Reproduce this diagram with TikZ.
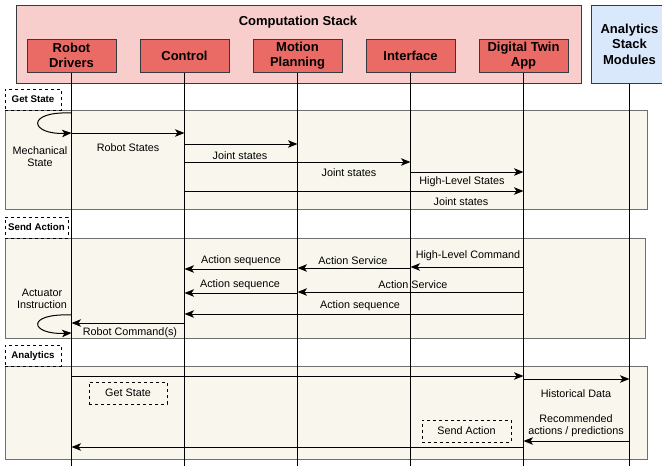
\documentclass[tikz,border=0pt]{standalone}
\usepackage{fontspec}
\setmainfont{Liberation Sans}
\usetikzlibrary{positioning,calc,arrows.meta}
\definecolor{stackpink}{HTML}{F8CECC}
\definecolor{boxred}{HTML}{EA6B66}
\definecolor{anablue}{HTML}{DAE8FC}
\definecolor{lanefill}{HTML}{F9F7ED}
\definecolor{laneedge}{HTML}{707070}
\definecolor{edgegray}{HTML}{36393D}
\tikzset{
	stackbox/.style={draw=edgegray,line width=1pt,fill=boxred,minimum width=89pt,minimum height=33pt,inner sep=0pt,align=center,font=\fontsize{13}{14.5}\selectfont\bfseries},
	outerbox/.style={draw=edgegray,line width=1pt,inner sep=0pt},
	lane/.style={draw=laneedge,line width=1pt,fill=lanefill},
	tag/.style={draw,dashed,line width=0.8pt,inner sep=0pt,minimum height=21pt,font=\fontsize{9.7}{11}\selectfont\bfseries},
	note/.style={draw,dashed,line width=0.8pt,inner sep=0pt,minimum height=22pt,font=\fontsize{10.8}{12}\selectfont},
	lbl/.style={inner sep=0pt,align=center,yshift=-1.5pt,font=\fontsize{10.8}{12.5}\selectfont},
	life/.style={line width=1pt},
	msg/.style={line width=1pt,-{Stealth[length=9.5pt,width=7.5pt,inset=2.5pt]}}
}

\begin{document}
\begin{tikzpicture}[x=1pt,y=-1pt]
	\useasboundingbox (0,0) rectangle (662,466);
	
	%Piles
	\node[outerbox,fill=stackpink,minimum width=565pt,minimum height=78pt] (cs) at (298.5,44) {};
	\node[font=\fontsize{13}{14.5}\selectfont\bfseries] (cstitle) at (298,22) {Computation Stack};
	\node[outerbox,fill=anablue,minimum width=77pt,minimum height=78pt,align=center,font=\fontsize{13}{15.5}\selectfont\bfseries] (asm) at (629.5,44) {Analytics\\Stack\\Modules};
	
	%Modules
	\node[stackbox] (rd) at (71.5,55.5) {Robot\\Drivers};
	\node[stackbox] (ctl) at (184.5,55.5) {Control};
	\node[stackbox] (mp) at (297.5,55.5) {Motion\\Planning};
	\node[stackbox] (itf) at (410.5,55.5) {Interface};
	\node[stackbox] (dt) at (523.5,55.5) {Digital Twin\\App};
	
	%Bandes
	\draw[lane] (5,110) rectangle (647,209);
	\draw[lane] (5,238) rectangle (645,338);
	\draw[lane] (5,366) rectangle (647,459);
	
	\node[tag,minimum width=56pt] (tGet) at (33,99.5) {Get State};
	\node[tag,minimum width=63pt] (tSend) at (36.5,227.5) {Send Action};
	\node[tag,minimum width=56pt] (tAna) at (33,355.5) {Analytics};
	
	%Lignes de vie
	\foreach \n in {rd,ctl,mp,itf,dt,asm}
		\draw[life] (\n.south) -- (\n |- 0,466);
	
	%Get State
	\draw[msg] (rd |- 0,113) .. controls (25,111) and (30,135) .. (rd |- 0,133);
	\node[lbl] (lMech) at (40,155) {Mechanical\\State};
	\draw[msg] (rd |- 0,133) -- (ctl |- 0,133);
	\node[lbl] (lRS) at (128,146) {Robot States};
	\draw[msg] (ctl |- 0,144) -- (mp |- 0,144);
	\node[lbl] (lJS1) at (240,154) {Joint states};
	\draw[msg] (ctl |- 0,162) -- (itf |- 0,162);
	\node[lbl] (lJS2) at (349,171) {Joint states};
	\draw[msg] (itf |- 0,172) -- (dt |- 0,172);
	\node[lbl] (lHLS) at (462,180) {High-Level States};
	\draw[msg] (ctl |- 0,191) -- (dt |- 0,191);
	\node[lbl] (lJS3) at (461,200) {Joint states};
	
	%Send Action
	\draw[msg] (dt |- 0,267) -- (itf |- 0,267);
	\node[lbl] (lHLC) at (468,254) {High-Level Command};
	\draw[msg] (itf |- 0,268) -- (mp |- 0,268);
	\node[lbl] (lAS1) at (353,259) {Action Service};
	\draw[msg] (mp |- 0,269) -- (ctl |- 0,269);
	\node[lbl] (lSeq1) at (241,259) {Action sequence};
	\draw[msg] (dt |- 0,292) -- (mp |- 0,292);
	\node[lbl] (lAS2) at (413,283) {Action Service};
	\draw[msg] (mp |- 0,293) -- (ctl |- 0,293);
	\node[lbl] (lSeq2) at (240,283) {Action sequence};
	\draw[msg] (dt |- 0,314) -- (ctl |- 0,314);
	\node[lbl] (lSeq3) at (360,304) {Action sequence};
	\draw[msg] (ctl |- 0,323) -- (rd |- 0,323);
	\node[lbl] (lRC) at (130,331) {Robot Command(s)};
	\draw[msg] (rd |- 0,315) .. controls (25,313) and (30,335) .. (rd |- 0,333);
	\node[lbl] (lAct) at (42,297.5) {Actuator\\Instruction};
	
	%Analytics
	\draw[msg] (rd |- 0,376) -- (dt |- 0,376);
	\draw[msg] (dt |- 0,379) -- (asm |- 0,379);
	\node[lbl] (lHist) at (576,392) {Historical Data};
	\node[note,minimum width=78pt] (nGet) at (128,393) {Get State};
	\draw[msg] (asm |- 0,441) -- (dt |- 0,441);
	\node[lbl] (lRec) at (576,424) {Recommended\\actions / predictions};
	\draw[msg] (dt |- 0,447) -- (rd |- 0,447);
	\node[note,minimum width=89pt] (nSend) at (466.5,431) {Send Action};
	
\end{tikzpicture}
\end{document}
